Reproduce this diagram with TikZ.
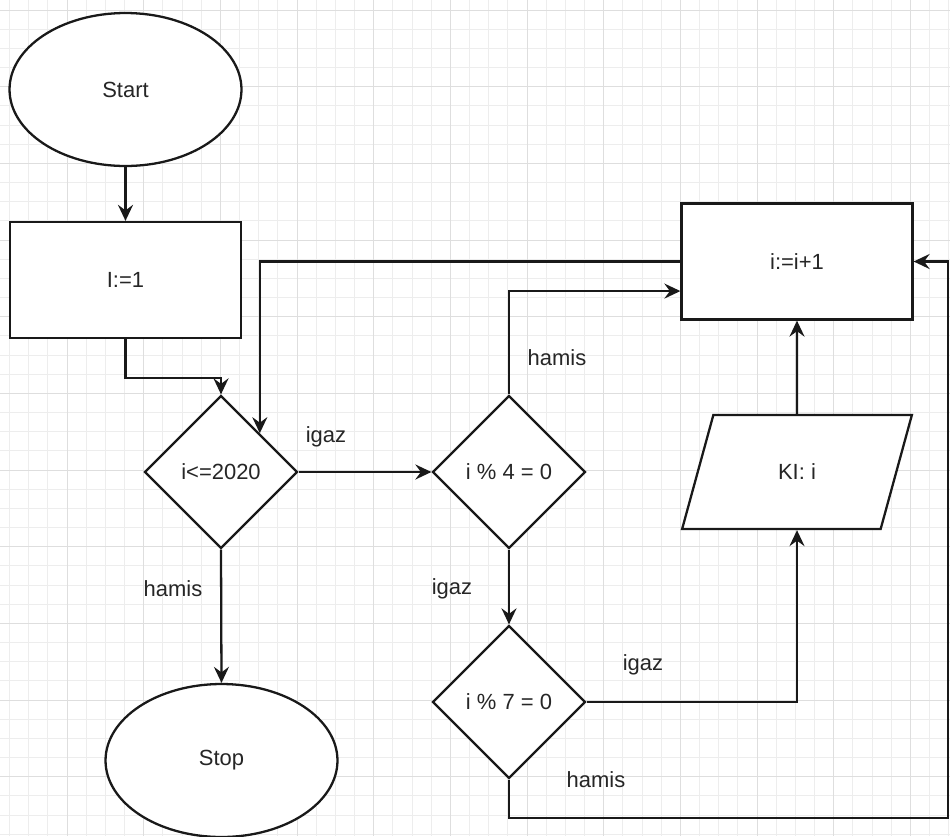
\documentclass[tikz,border=0pt]{standalone}
\usepackage{fontspec}
\setmainfont{Liberation Sans}
\usetikzlibrary{shapes.geometric,arrows.meta,positioning,calc}

\begin{document}
\begin{tikzpicture}[
    x=0.02cm, y=-0.02cm,
    font=\fontsize{12.5}{15}\selectfont,
    every node/.style={text=black!85},
    gridminor/.style={draw=black!7, line width=0.5pt},
    gridmajor/.style={draw=black!13, line width=0.5pt},
    termbox/.style={ellipse, draw=black!90, fill=white, line width=1.3pt, minimum width=4.64cm, minimum height=3.06cm},
    procbox/.style={rectangle, draw=black!90, fill=white, line width=1.3pt, minimum width=4.62cm, minimum height=2.32cm},
    decbox/.style={diamond, aspect=1, draw=black!90, fill=white, line width=1.3pt, minimum width=3.06cm, minimum height=3.06cm, inner sep=0pt},
    iobox/.style={trapezium, trapezium left angle=71.5, trapezium right angle=108.5, trapezium stretches=true, draw=black!90, fill=white, line width=1.3pt, minimum width=4.6cm, minimum height=2.28cm},
    flow/.style={-{Stealth[length=3.2mm, width=3mm, inset=1.1mm]}, line width=1.3pt, draw=black!90},
    lbl/.style={inner sep=1pt}
]

    % --- fond quadrille ---
    \useasboundingbox (0,0) rectangle (950,836);
    \fill[white] (0,0) rectangle (950,836);
    \foreach \k [evaluate=\k as \gx using 9.5+19.1667*\k] in {0,...,49}
        \draw[gridminor] (\gx,0) -- (\gx,836);
    \foreach \k [evaluate=\k as \gy using 10+19.1667*\k] in {0,...,43}
        \draw[gridminor] (0,\gy) -- (950,\gy);
    \foreach \k [evaluate=\k as \gx using 67+76.667*\k] in {0,...,11}
        \draw[gridmajor] (\gx,0) -- (\gx,836);
    \foreach \k [evaluate=\k as \gy using 10+76.667*\k] in {0,...,10}
        \draw[gridmajor] (0,\gy) -- (950,\gy);

    % --- blocs ---
    \node[termbox] (start) at (125.5,89.5) {Start};
    \node[procbox] (init) at (125.5,280) {I:=1};
    \node[decbox] (cond) at (221,472) {i<=2020};
    \node[termbox] (stop) at (221.5,760.5) {Stop};
    \node[decbox] (mod4) at (509,472) {i \% 4 = 0};
    \node[decbox] (mod7) at (509,702) {i \% 7 = 0};
    \node[iobox] (print) at (797,472) {KI: i};
    \node[procbox] (incr) at (797,261.5) {i:=i+1};
    \coordinate (loopend) at (948,818);

    % --- liaisons ---
    \draw[flow] (start.south) -- (init.north);
    \draw[flow] (init.south) -- ++(0,39) -| (cond.north);
    \draw[flow] (cond.south) -- (stop.north);
    \draw[flow] (cond.east) -- (mod4.west);
    \draw[flow] (mod4.north) |- ($(incr.south west)!0.25!(incr.north west)$);
    \draw[flow] (mod4.south) -- (mod7.north);
    \draw[flow] (mod7.east) -| (print.south);
    \draw[flow] (mod7.south) |- (loopend) |- (incr.east);
    \draw[flow] (print.north) -- (incr.south);
    \draw[flow] (incr.west) -| ($(cond.north)!0.5!(cond.east)$);

    % --- etiquettes ---
    \node[lbl] (yes1) at (326,437) {igaz};
    \node[lbl] (no1) at (173,589) {hamis};
    \node[lbl] (no4) at (557,358) {hamis};
    \node[lbl] (yes4) at (452,589) {igaz};
    \node[lbl] (yes7) at (643,665) {igaz};
    \node[lbl] (no7) at (596,780) {hamis};

\end{tikzpicture}
\end{document}
